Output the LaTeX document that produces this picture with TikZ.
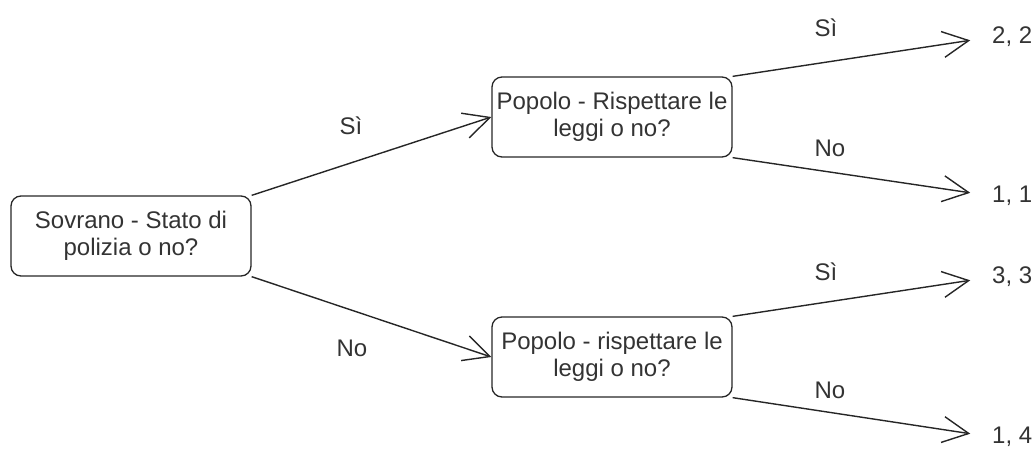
\documentclass[tikz,border=0pt]{standalone}
\usepackage{fontspec}
\setmainfont{Liberation Sans}
\usetikzlibrary{arrows.meta}
\begin{document}
\begin{tikzpicture}[x=1pt,y=-1pt,
  every node/.style={text=black!80},
  box/.style={draw=black!85, line width=1.3pt, rounded corners=10pt, minimum width=240pt, minimum height=80pt, align=center, inner sep=0pt, font=\fontsize{24}{27}\selectfont},
  lbl/.style={font=\fontsize{24}{27}\selectfont, inner sep=0pt},
  res/.style={font=\fontsize{24}{27}\selectfont, inner sep=0pt, anchor=west},
  edge/.style={draw=black!85, line width=1.4pt, -{Straight Barb[length=26pt,width=26pt,line width=1.4pt]}},
  tail/.style={edge, shorten >=22pt}]
\useasboundingbox (0,0) rectangle (1034,448);
\node[box] (root) at (131,236) {Sovrano - Stato di\\polizia o no?};
\node[box] (top) at (612,117) {Popolo - Rispettare le\\leggi o no?};
\node[box] (bot) at (612,357) {Popolo - rispettare le\\leggi o no?};
\node[res] (r22) at (992,37) {2, 2};
\node[res] (r11) at (992,196) {1, 1};
\node[res] (r33) at (992,277) {3, 3};
\node[res] (r14) at (992,437) {1, 4};
\draw[edge] (root.north east) -- (top.west);
\draw[edge] (root.south east) -- (bot.west);
\draw[tail] (top.north east) -- (r22.west);
\draw[tail] (top.south east) -- (r11.west);
\draw[tail] (bot.north east) -- (r33.west);
\draw[tail] (bot.south east) -- (r14.west);
\node[lbl] (l1) at (351,126) {Sì};
\node[lbl] (l2) at (352,348) {No};
\node[lbl] (l3) at (826,28) {Sì};
\node[lbl] (l4) at (830,148) {No};
\node[lbl] (l5) at (826,272) {Sì};
\node[lbl] (l6) at (830,390) {No};
\end{tikzpicture}
\end{document}
